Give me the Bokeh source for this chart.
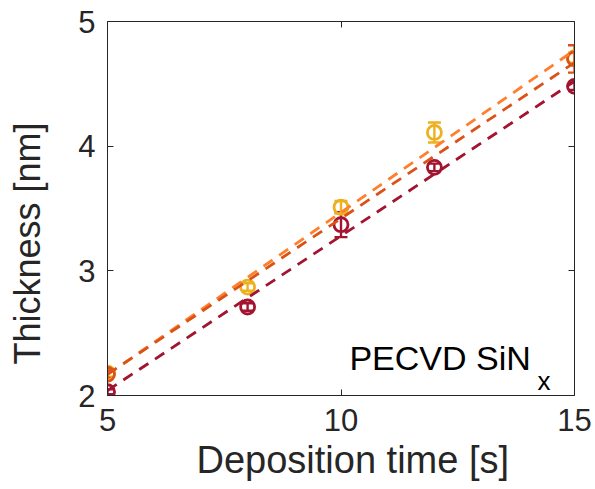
from bokeh.plotting import figure
from bokeh.models import (ColumnDataSource, Whisker, TeeHead, Label, LinearAxis,
                          FixedTicker, Range1d, Title)
from bokeh.embed import file_html
from bokeh.resources import INLINE

# Deposition times [s]
t_yellow = [5, 8, 10, 12, 15]
th_yellow = [2.18, 2.87, 3.51, 4.11, 4.71]
err_yellow = [0.03, 0.03, 0.05, 0.08, 0.04]

t_orange = [5, 15]
th_orange = [2.17, 4.70]
err_orange = [0.03, 0.11]

t_red = [5, 8, 10, 12, 15]
th_red = [2.03, 2.71, 3.37, 3.83, 4.48]
err_red = [0.02, 0.03, 0.10, 0.03, 0.03]

# Linear fits (endpoints)
fit_t = [5, 15]
fit_light = [2.167, 4.77]
fit_orange = [2.17, 4.67]
fit_red = [2.04, 4.52]

x_ticks = [5, 10, 15]
y_ticks = [2, 3, 4, 5]

C_YELLOW = "#EDB120"
C_ORANGE = "#D95319"
C_LIGHT = "#FF7F2A"
C_RED = "#A2142F"
C_AX = "#262626"
FONT = "Liberation Sans"

p = figure(frame_width=467, frame_height=374,
           min_border_left=107, min_border_right=21,
           min_border_top=21, min_border_bottom=94,
           x_range=Range1d(5, 15), y_range=Range1d(2, 5),
           output_backend="svg", toolbar_location=None,
           background_fill_color="white", border_fill_color="white")
p.xgrid.visible = False
p.ygrid.visible = False
p.outline_line_color = None


def style_axis(ax, ticks, show_labels):
    ax.ticker = FixedTicker(ticks=ticks)
    ax.axis_line_color = C_AX
    ax.axis_line_width = 1
    ax.major_tick_line_color = C_AX
    ax.major_tick_in = 6
    ax.major_tick_out = 0
    ax.minor_tick_line_color = None
    ax.major_label_text_font = FONT
    ax.major_label_text_color = C_AX
    if show_labels:
        ax.major_label_text_font_size = "31px"
        ax.major_label_standoff = 12
    else:
        ax.major_label_text_font_size = "1px"
        ax.major_label_text_color = None
        ax.major_label_standoff = 0


style_axis(p.xaxis[0], x_ticks, True)
style_axis(p.yaxis[0], y_ticks, True)
p.xaxis[0].major_label_standoff = 13
top_ax = LinearAxis()
right_ax = LinearAxis()
style_axis(top_ax, x_ticks, False)
style_axis(right_ax, y_ticks, False)
p.add_layout(top_ax, "above")
p.add_layout(right_ax, "right")

# Axis titles (a blank title keeps a gap between the y ticks and its title)
p.add_layout(Title(text="Deposition time [s]", align="left", offset=89,
                   text_font=FONT, text_font_size="38px", text_color=C_AX,
                   text_font_style="normal", standoff=6), "below")
p.add_layout(Title(text=" ", text_font_size="1px", standoff=25), "left")
p.add_layout(Title(text="Thickness [nm]", align="left", offset=31,
                   text_font=FONT, text_font_size="36px", text_color=C_AX,
                   text_font_style="normal", standoff=0), "left")


def series(t, th, err, color):
    src = ColumnDataSource(dict(t=t, th=th,
                                lo=[a - b for a, b in zip(th, err)],
                                hi=[a + b for a, b in zip(th, err)]))
    w = Whisker(base="t", lower="lo", upper="hi", source=src,
                line_color=color, line_width=2.4,
                lower_head=TeeHead(size=13, line_color=color, line_width=2.4),
                upper_head=TeeHead(size=13, line_color=color, line_width=2.4))
    p.add_layout(w)
    p.scatter("t", "th", source=src, marker="circle", size=14,
              fill_color=None, line_color=color, line_width=2.8)


series(t_red, th_red, err_red, C_RED)
series(t_yellow, th_yellow, err_yellow, C_YELLOW)
series(t_orange, th_orange, err_orange, C_ORANGE)

for ys, col in [(fit_light, C_LIGHT), (fit_orange, C_ORANGE), (fit_red, C_RED)]:
    p.line(fit_t, ys, line_color=col, line_width=2.8, line_dash="11 8")

# Annotation inside the axes
p.add_layout(Label(x=10.18, y=2.30, text="PECVD SiN", text_font=FONT,
                   text_font_size="34px", text_color="black",
                   text_baseline="alphabetic", text_align="left"))
p.add_layout(Label(x=14.21, y=2.12, text="x", text_font=FONT,
                   text_font_size="26px", text_color="black",
                   text_baseline="alphabetic", text_align="left"))

open("out.html", "w").write(file_html(p, INLINE))
